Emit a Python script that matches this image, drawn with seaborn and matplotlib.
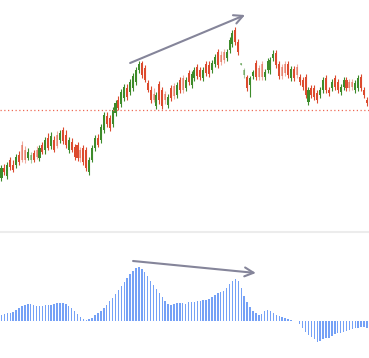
import numpy as np
import pandas as pd
import matplotlib
matplotlib.use("Agg")
import matplotlib.pyplot as plt
import seaborn as sns

opens = [7.2, 8.2, 7.4, 9.0, 8.5, 8.5, 9.5, 10.5, 10.0, 9.2,
         9.0, 9.7, 10.0, 9.2, 10.5, 10.0, 11.2, 10.4, 11.0, 11.5,
         11.0, 12.0, 11.5, 10.0, 10.8, 10.3, 10.5, 10.0, 10.2, 10.0,
         7.8, 9.0, 10.2, 11.2, 11.0, 12.0, 13.4, 13.2, 12.6, 13.7,
         15.0, 14.6, 15.2, 16.2, 15.8, 16.2, 16.8, 18.0, 18.7, 18.2,
         16.7, 16.0, 15.6, 14.4, 16.6, 16.0, 15.6, 14.5, 16.2, 16.4,
         15.5, 17.0, 17.2, 16.2, 17.7, 16.5, 17.2, 18.3, 18.0, 17.2,
         18.6, 18.5, 18.0, 18.6, 19.8, 19.5, 19.8, 19.2, 20.0, 20.6,
         22.0, 20.8, 18.55, 17.5, 17.3, 16.5, 17.4, 18.7, 18.2, 18.6,
         17.3, 18.0, 18.0, 19.2, 19.7, 18.6, 18.3, 18.6, 18.6, 17.2,
         18.1, 18.3, 17.3, 17.0, 17.3, 14.8, 16.2, 16.2, 15.7, 15.5,
         16.0, 17.2, 16.0, 16.2, 17.2, 16.8, 15.8, 16.3, 17.0, 16.8,
         16.8, 16.0, 16.2, 17.3, 16.0, 15.0]
closes = [8.2, 7.8, 8.5, 8.3, 8.0, 9.3, 8.8, 9.0, 9.0, 9.8,
          9.5, 9.0, 9.3, 10.2, 9.8, 11.0, 10.2, 11.4, 10.0, 10.4,
          11.7, 10.9, 10.5, 11.0, 10.0, 9.3, 9.2, 9.2, 8.8, 8.2,
          9.0, 10.2, 11.2, 10.5, 12.3, 13.5, 12.6, 12.2, 14.0, 14.7,
          14.2, 15.8, 16.3, 15.3, 16.8, 17.4, 18.0, 18.6, 17.5, 17.0,
          16.0, 15.0, 15.0, 15.5, 15.0, 14.4, 15.0, 15.3, 15.2, 15.4,
          16.5, 16.0, 16.0, 17.0, 16.8, 17.6, 18.0, 17.4, 17.3, 18.0,
          17.7, 17.6, 18.7, 19.3, 18.5, 18.8, 19.0, 19.8, 21.0, 21.7,
          20.8, 19.8, 18.65, 18.0, 16.2, 17.2, 17.8, 17.3, 17.3, 17.3,
          17.8, 18.9, 19.0, 19.6, 18.5, 17.4, 17.4, 17.7, 17.5, 18.1,
          17.2, 17.5, 16.8, 16.3, 15.5, 16.0, 15.5, 15.3, 15.0, 16.0,
          17.0, 16.0, 15.7, 16.8, 16.3, 16.0, 16.3, 17.0, 16.2, 16.2,
          16.3, 16.7, 17.2, 16.2, 15.5, 14.7]
highs = [8.5, 8.6, 8.8, 9.3, 9.0, 9.6, 9.9, 10.9, 10.4, 10.2,
         9.8, 10.0, 10.4, 10.5, 10.8, 11.3, 11.7, 11.8, 11.4, 11.9,
         12.0, 12.3, 12.0, 11.3, 11.2, 10.6, 10.8, 10.3, 10.5, 10.3,
         9.3, 10.5, 11.5, 11.6, 12.6, 13.8, 13.8, 13.5, 14.3, 15.0,
         15.4, 16.1, 16.6, 16.6, 17.1, 17.7, 18.3, 18.9, 18.9, 18.5,
         17.0, 16.4, 16.2, 15.8, 16.9, 16.3, 15.9, 15.6, 16.5, 16.7,
         16.8, 17.3, 17.5, 17.3, 18.0, 17.9, 18.3, 18.6, 18.3, 18.3,
         18.9, 18.9, 19.0, 19.6, 20.1, 19.9, 20.1, 20.1, 21.3, 22.0,
         22.3, 21.1, 18.7, 18.2, 17.5, 17.4, 18.0, 19.0, 18.5, 18.9,
         18.1, 19.2, 19.3, 20.0, 20.0, 18.9, 18.6, 18.9, 18.9, 18.4,
         18.4, 18.6, 17.6, 17.3, 17.6, 16.3, 16.5, 16.5, 16.0, 16.3,
         17.3, 17.5, 16.3, 17.1, 17.5, 17.1, 16.6, 17.3, 17.3, 17.1,
         17.1, 17.0, 17.5, 17.6, 16.3, 15.3]
lows = [6.9, 7.5, 7.1, 8.0, 7.8, 8.2, 8.5, 8.8, 8.7, 9.0,
        8.7, 8.8, 9.1, 8.9, 9.6, 9.6, 10.0, 10.1, 9.8, 10.2,
        10.7, 10.6, 10.2, 9.7, 9.8, 9.0, 8.9, 8.8, 8.5, 7.9,
        7.5, 8.8, 9.9, 10.3, 10.7, 11.7, 12.3, 11.9, 12.3, 13.4,
        14.0, 14.3, 14.9, 15.0, 15.5, 15.9, 16.5, 17.7, 17.2, 16.8,
        15.8, 14.7, 14.8, 14.1, 14.6, 14.1, 14.6, 14.2, 14.9, 15.1,
        15.2, 15.7, 15.7, 15.9, 16.5, 16.2, 16.9, 17.1, 17.0, 16.9,
        17.4, 17.3, 17.7, 18.3, 18.2, 18.5, 18.7, 18.9, 19.7, 20.3,
        20.5, 19.5, 18.5, 17.2, 15.9, 15.3, 17.1, 17.0, 17.0, 17.0,
        17.0, 17.7, 17.6, 18.9, 18.2, 17.1, 17.1, 17.4, 17.2, 16.9,
        16.9, 17.2, 16.5, 16.0, 15.2, 14.5, 15.2, 15.0, 14.7, 15.2,
        15.7, 15.7, 15.4, 15.9, 16.0, 15.7, 15.5, 16.0, 15.9, 15.9,
        16.0, 15.7, 15.9, 15.9, 15.2, 14.4]
macd = [0.06, 0.07, 0.08, 0.08, 0.09, 0.11, 0.13, 0.15, 0.16, 0.17,
        0.17, 0.16, 0.15, 0.15, 0.15, 0.16, 0.16, 0.16, 0.17, 0.18,
        0.18, 0.18, 0.17, 0.15, 0.13, 0.10, 0.07, 0.04, 0.02, 0.015,
        0.02, 0.03, 0.06, 0.08, 0.10, 0.13, 0.16, 0.20, 0.23, 0.27,
        0.31, 0.35, 0.39, 0.43, 0.47, 0.50, 0.53, 0.54, 0.52, 0.49,
        0.45, 0.40, 0.36, 0.32, 0.28, 0.24, 0.20, 0.17, 0.16, 0.17,
        0.18, 0.18, 0.18, 0.17, 0.19, 0.19, 0.19, 0.20, 0.20, 0.21,
        0.21, 0.22, 0.24, 0.26, 0.28, 0.29, 0.30, 0.33, 0.37, 0.40,
        0.42, 0.40, 0.33, 0.25, 0.19, 0.14, 0.10, 0.08, 0.06, 0.07,
        0.10, 0.11, 0.10, 0.08, 0.06, 0.05, 0.04, 0.03, 0.02, 0.01,
        0.005, 0.003, -0.03, -0.07, -0.11, -0.14, -0.16, -0.18, -0.207, -0.20,
        -0.18, -0.17, -0.17, -0.15, -0.13, -0.12, -0.12, -0.11, -0.10, -0.09,
        -0.08, -0.07, -0.067, -0.057, -0.057, -0.073]
ref_level = 14.0
price_arrow = [(44, 18.7), (83.3, 23.5)]
macd_arrow = [(45, 0.60), (87, 0.48)]

UP = "#3d8b2a"
DOWN = "#dc4a2e"
BAR = "#75a1f6"

df = pd.DataFrame({"open": opens, "close": closes, "high": highs, "low": lows})
df["idx"] = np.arange(len(df))
n = len(df)

sns.set_theme(style="white")
W, H = 369, 358
fig = plt.figure(figsize=(W / 100, H / 100), dpi=100)
ax1 = fig.add_axes([0, 127 / H, 1, 231 / H])
ax2 = fig.add_axes([0, 0, 1, 125 / H])

prev = df["close"].shift(1).fillna(df["open"])
for i, r in df.iterrows():
    up = r["close"] >= r["open"]
    col = UP if up else DOWN
    faded = (r["close"] >= prev[i]) != up
    a = 0.45 if faded else 1.0
    ax1.vlines(r["idx"], r["low"], r["high"], color=col, lw=0.8, alpha=a)
    lo = min(r["open"], r["close"])
    h = max(abs(r["close"] - r["open"]), 0.12)
    ax1.bar(r["idx"], h, bottom=lo, width=0.7, color=col, alpha=a, linewidth=0)

ax1.axhline(ref_level, color="#ee6a55", lw=0.9, ls=(0, (1, 2)))
ax1.annotate("", xy=price_arrow[1], xytext=price_arrow[0],
             arrowprops=dict(arrowstyle="->", color="#85859a", lw=1.5,
                             mutation_scale=16, shrinkA=0, shrinkB=0))
ax1.set_xlim(-0.51, n - 0.3)
ax1.set_ylim(1.9, 25.0)
ax1.axis("off")

mdf = pd.DataFrame({"idx": np.arange(n), "macd": macd})
sns.barplot(data=mdf, x="idx", y="macd", color=BAR, width=0.5,
            saturation=1, ax=ax2, linewidth=0)
ax2.annotate("", xy=macd_arrow[1], xytext=macd_arrow[0],
             arrowprops=dict(arrowstyle="->", color="#85859a", lw=1.5,
                             mutation_scale=16, shrinkA=0, shrinkB=0))
ax2.set_xlim(-0.51, n - 0.3)
ax2.set_ylim(-0.37, 0.88)
ax2.axis("off")

fig.add_artist(plt.Line2D([0, 1], [1 - 232 / H, 1 - 232 / H],
                          color="#ececec", lw=1.5, transform=fig.transFigure))

fig.savefig("out.png", dpi=100)
